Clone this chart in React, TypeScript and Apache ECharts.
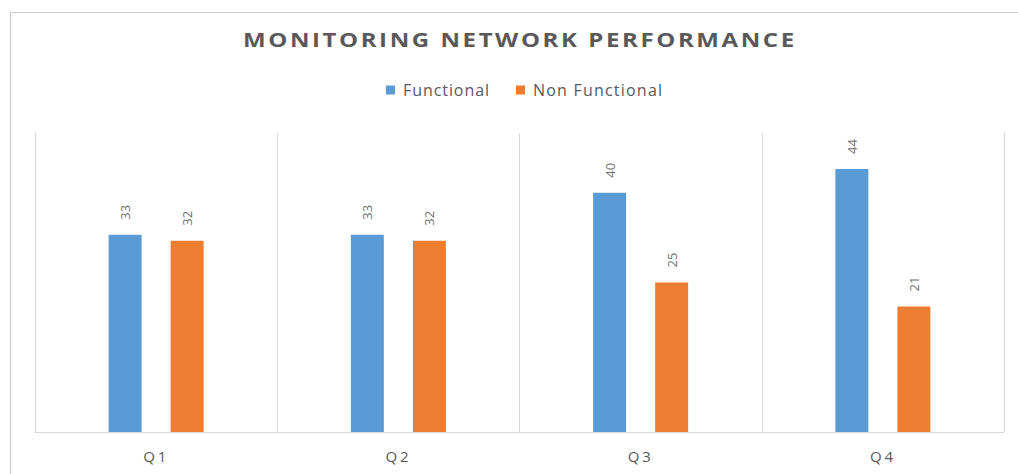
import React, { useEffect, useRef } from "react";
import * as echarts from "echarts";

const titleText = "MONITORING NETWORK PERFORMANCE";
const categories = ["Q1", "Q2", "Q3", "Q4"];
const functional = [33, 33, 40, 44];
const nonFunctional = [32, 32, 25, 21];
const seriesNames = ["Functional", "Non Functional"];

const TITLE_SCALE_X = 1.2;

// target widths (in each text's own units) of the letter-spaced texts
const spacedWidths: Record<string, number> = {
  [titleText]: 551 / TITLE_SCALE_X,
  Functional: 86,
  "Non Functional": 129,
  Q1: 23,
  Q2: 23,
  Q3: 23,
  Q4: 23,
};

export default function App() {
  const ref = useRef<HTMLDivElement>(null);
  useEffect(() => {
    if (!ref.current) return;
    const el = ref.current;
    const chart = echarts.init(el, null, { renderer: "svg" });
    const label = {
      show: true,
      position: "top",
      rotate: 90,
      distance: 15,
      align: "left",
      verticalAlign: "middle",
      color: "#6f6f6f",
      fontSize: 13,
      fontFamily: "Open Sans",
    };
    const legendText = {
      fontFamily: "Open Sans",
      fontSize: 16,
      color: "#595959",
      padding: [0, 0, 0, 3],
    };
    chart.setOption({
      animation: false,
      backgroundColor: "#ffffff",
      legend: [
        {
          data: [seriesNames[0]],
          left: 386,
          top: 82,
          padding: 0,
          itemWidth: 9,
          itemHeight: 9,
          icon: "rect",
          textStyle: legendText,
        },
        {
          data: [seriesNames[1]],
          left: 516,
          top: 82,
          padding: 0,
          itemWidth: 9,
          itemHeight: 9,
          icon: "rect",
          textStyle: legendText,
        },
      ],
      grid: { left: 35, right: 14, top: 133, bottom: 42, containLabel: false },
      xAxis: {
        type: "category",
        data: categories,
        boundaryGap: true,
        axisLine: { show: true, lineStyle: { color: "#d9d9d9", width: 1 } },
        axisTick: { show: false },
        splitLine: { show: true, lineStyle: { color: "#d9d9d9", width: 1 } },
        axisLabel: {
          color: "#595959",
          fontSize: 15,
          fontFamily: "Open Sans",
          margin: 16,
        },
      },
      yAxis: {
        type: "value",
        min: 0,
        max: 50,
        interval: 10,
        axisLine: { show: false },
        axisTick: { show: false },
        axisLabel: { show: false },
        splitLine: { show: false },
      },
      series: [
        {
          name: seriesNames[0],
          type: "bar",
          data: functional,
          barWidth: 33,
          barGap: "88%",
          itemStyle: { color: "#5b9bd5" },
          label,
        },
        {
          name: seriesNames[1],
          type: "bar",
          data: nonFunctional,
          barWidth: 33,
          barGap: "88%",
          itemStyle: { color: "#ed7d31" },
          label,
        },
      ],
      graphic: [
        {
          type: "rect",
          shape: { x: 10.5, y: 12.5, width: 1020, height: 480 },
          style: { fill: "none", stroke: "#cccccc", lineWidth: 1.2 },
          silent: true,
        },
        {
          type: "text",
          x: 243,
          y: 39,
          scaleX: TITLE_SCALE_X,
          silent: true,
          style: {
            text: titleText,
            fill: "#595959",
            font: "bold 20px 'Open Sans'",
            textAlign: "left",
            textVerticalAlign: "middle",
            verticalAlign: "middle",
          },
        },
      ],
    });

    const applySpacing = () => {
      el.querySelectorAll("text").forEach((t) => {
        const s = (t.textContent || "").trim();
        const target = spacedWidths[s];
        if (!target) return;
        const te = t as SVGTextElement;
        te.removeAttribute("letter-spacing");
        const len = te.getComputedTextLength();
        const n = Math.max(1, s.length - 1);
        const ls = Math.max(0, (target - len) / n);
        te.setAttribute("letter-spacing", ls.toFixed(2));
      });
    };
    chart.on("finished", applySpacing);
    applySpacing();
    const raf = requestAnimationFrame(applySpacing);

    return () => {
      cancelAnimationFrame(raf);
      chart.dispose();
    };
  }, []);
  return (
    <div
      ref={ref}
      style={{ position: "fixed", left: 0, top: 0, width: 1018, height: 474 }}
    />
  );
}
